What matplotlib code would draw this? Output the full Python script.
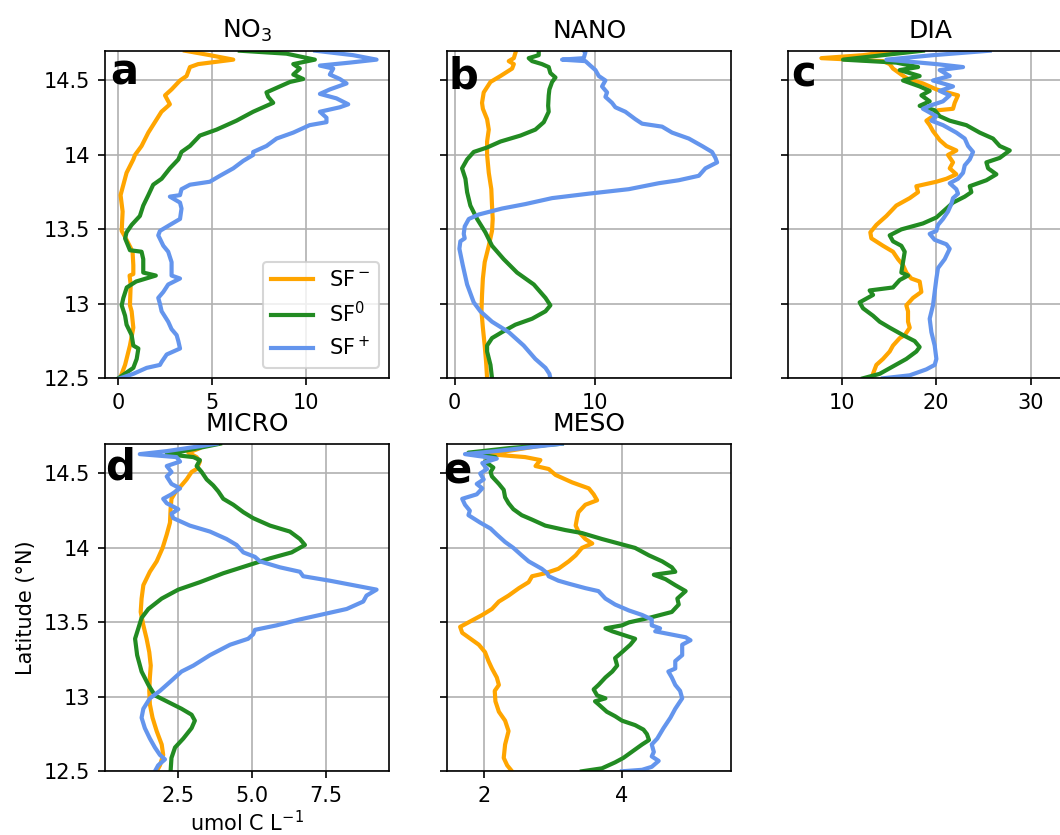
import matplotlib.pyplot as plt

plt.rcParams['font.family'] = 'DejaVu Sans'
plt.rcParams['font.size'] = 10

col_m = 'orange'
col_0 = 'forestgreen'
col_p = 'cornflowerblue'
labels = ['SF$^-$', 'SF$^0$', 'SF$^+$']

# (latitude, value)
no3_m = [(12.50, 0.09), (12.59, 0.36), (12.72, 0.62), (12.84, 0.80), (12.95, 0.71), (12.99, 0.62),
         (13.13, 0.66), (13.19, 0.60), (13.20, 0.80), (13.26, 0.80), (13.35, 0.76), (13.45, 0.36),
         (13.49, 0.18), (13.62, 0.23), (13.73, 0.12), (13.80, 0.27), (13.88, 0.44), (13.97, 0.80),
         (14.00, 0.89), (14.06, 1.24), (14.15, 1.60), (14.24, 2.05), (14.29, 2.30), (14.34, 2.75),
         (14.40, 2.49), (14.44, 2.84), (14.50, 3.29), (14.53, 3.64), (14.59, 3.82), (14.61, 4.26),
         (14.64, 6.13), (14.67, 4.88), (14.70, 3.55)]
no3_0 = [(12.50, 0.00), (12.57, 0.80), (12.63, 0.98), (12.70, 1.07), (12.72, 0.80), (12.79, 0.71),
         (12.86, 0.44), (12.92, 0.36), (12.99, 0.18), (13.04, 0.27), (13.11, 0.45), (13.15, 0.95),
         (13.19, 2.00), (13.21, 1.33), (13.30, 1.33), (13.35, 1.24), (13.36, 0.62), (13.44, 0.36),
         (13.48, 0.44), (13.53, 0.71), (13.59, 1.15), (13.66, 1.33), (13.73, 1.60), (13.80, 1.86),
         (13.84, 2.31), (13.91, 2.75), (13.97, 3.20), (14.02, 3.37), (14.06, 3.82), (14.13, 4.35),
         (14.17, 5.24), (14.23, 6.30), (14.29, 7.19), (14.35, 8.26), (14.39, 7.99), (14.42, 7.90),
         (14.49, 9.15), (14.51, 9.86), (14.54, 9.33), (14.58, 9.68), (14.61, 9.33), (14.64, 10.48),
         (14.68, 8.97), (14.70, 6.48)]
no3_p = [(12.50, 0.09), (12.53, 0.80), (12.57, 1.51), (12.59, 2.22), (12.61, 2.31), (12.66, 2.58),
         (12.70, 3.29), (12.75, 3.20), (12.79, 3.11), (12.83, 2.84), (12.88, 2.66), (12.95, 2.31),
         (13.00, 2.22), (13.04, 2.13), (13.08, 2.40), (13.13, 2.66), (13.17, 3.29), (13.19, 2.84),
         (13.28, 2.84), (13.35, 2.66), (13.39, 2.40), (13.46, 2.13), (13.49, 2.22), (13.53, 2.75),
         (13.57, 3.29), (13.64, 3.37), (13.68, 3.29), (13.72, 2.75), (13.73, 3.29), (13.77, 3.37),
         (13.80, 3.82), (13.82, 4.88), (13.86, 5.42), (13.91, 6.13), (13.96, 6.66), (14.00, 7.19),
         (14.02, 7.19), (14.06, 7.90), (14.11, 8.44), (14.15, 9.33), (14.20, 10.20), (14.22, 11.10),
         (14.25, 11.10), (14.29, 10.75), (14.32, 11.81), (14.34, 12.26), (14.38, 11.63), (14.41, 10.75),
         (14.44, 11.28), (14.48, 12.17), (14.51, 11.81), (14.54, 11.28), (14.58, 11.46), (14.60, 10.75),
         (14.62, 12.34), (14.64, 13.77), (14.67, 12.52), (14.70, 10.50)]

nano_m = [(12.50, 2.30), (12.61, 2.23), (12.72, 2.13), (12.84, 2.00), (12.95, 1.90), (13.06, 1.94),
          (13.17, 2.00), (13.28, 2.13), (13.39, 2.42), (13.49, 2.65), (13.57, 2.70), (13.66, 2.65),
          (13.77, 2.60), (13.88, 2.42), (14.00, 2.30), (14.09, 2.30), (14.17, 2.42), (14.24, 2.30),
          (14.31, 2.00), (14.35, 1.94), (14.42, 2.06), (14.49, 2.54), (14.53, 3.25), (14.58, 4.08),
          (14.61, 4.20), (14.63, 3.84), (14.65, 4.20), (14.70, 4.36)]
nano_0 = [(12.50, 2.65), (12.59, 2.54), (12.68, 2.30), (12.72, 2.30), (12.77, 2.65), (12.81, 3.36),
          (12.86, 4.31), (12.90, 5.50), (12.95, 6.45), (12.99, 6.80), (13.04, 6.45), (13.13, 5.62),
          (13.21, 4.43), (13.30, 3.48), (13.39, 2.65), (13.48, 2.18), (13.57, 1.59), (13.66, 1.11),
          (13.75, 0.88), (13.84, 0.76), (13.91, 0.52), (13.97, 0.88), (14.02, 1.35), (14.05, 2.30),
          (14.09, 3.25), (14.13, 4.67), (14.17, 5.73), (14.22, 6.33), (14.29, 6.68), (14.33, 6.64),
          (14.40, 6.68), (14.44, 6.73), (14.49, 6.92), (14.52, 7.16), (14.55, 6.80), (14.59, 6.68),
          (14.61, 6.20), (14.63, 5.50), (14.65, 5.26), (14.67, 5.97), (14.70, 5.97)]
nano_p = [(12.50, 6.80), (12.53, 6.73), (12.57, 6.45), (12.63, 5.73), (12.72, 4.90), (12.81, 3.84),
          (12.88, 2.65), (12.95, 1.82), (13.01, 1.35), (13.13, 0.88), (13.26, 0.57), (13.37, 0.33),
          (13.42, 0.40), (13.44, 0.71), (13.47, 0.64), (13.52, 0.71), (13.57, 1.00), (13.60, 1.71),
          (13.64, 3.36), (13.67, 5.02), (13.71, 6.92), (13.74, 9.53), (13.77, 12.37), (13.81, 14.50),
          (13.83, 15.92), (13.86, 17.35), (13.91, 17.82), (13.95, 18.65), (13.98, 18.53), (14.02, 18.29),
          (14.06, 17.58), (14.11, 16.64), (14.15, 15.45), (14.19, 14.74), (14.21, 13.32), (14.24, 12.84),
          (14.29, 12.13), (14.32, 11.42), (14.35, 11.18), (14.39, 10.71), (14.42, 10.83), (14.46, 10.47),
          (14.50, 10.71), (14.53, 10.24), (14.57, 10.00), (14.60, 9.64), (14.63, 9.29), (14.64, 7.63),
          (14.65, 9.17), (14.69, 9.29), (14.70, 9.17)]

dia_m = [(12.50, 13.14), (12.56, 13.49), (12.59, 13.67), (12.63, 14.37), (12.68, 15.08), (12.72, 15.43),
         (12.77, 16.14), (12.79, 16.67), (12.84, 17.20), (12.88, 17.02), (12.95, 17.02), (12.99, 16.84),
         (13.04, 17.55), (13.08, 18.43), (13.15, 18.25), (13.17, 17.37), (13.21, 16.84), (13.26, 16.49),
         (13.30, 15.96), (13.35, 15.43), (13.39, 14.37), (13.44, 13.14), (13.48, 13.03), (13.53, 13.67),
         (13.59, 14.73), (13.66, 15.78), (13.71, 17.20), (13.75, 18.08), (13.79, 17.90), (13.82, 20.02),
         (13.84, 21.08), (13.87, 22.13), (13.91, 21.43), (13.95, 21.78), (14.00, 21.25), (14.03, 22.13),
         (14.06, 21.08), (14.10, 20.37), (14.13, 20.02), (14.16, 19.66), (14.20, 19.31), (14.23, 18.96),
         (14.26, 19.66), (14.30, 20.19), (14.31, 21.78), (14.35, 21.96), (14.40, 22.31), (14.44, 20.02),
         (14.48, 18.60), (14.51, 17.02), (14.54, 16.31), (14.58, 15.43), (14.61, 15.08), (14.63, 14.37),
         (14.65, 7.85), (14.67, 12.26), (14.70, 15.80)]
dia_0 = [(12.50, 12.26), (12.53, 14.02), (12.58, 15.43), (12.63, 16.84), (12.68, 17.90), (12.71, 18.25),
         (12.75, 17.72), (12.79, 16.49), (12.84, 15.08), (12.88, 14.02), (12.92, 13.32), (12.97, 12.26),
         (13.01, 11.90), (13.06, 13.32), (13.09, 12.96), (13.11, 15.43), (13.16, 16.14), (13.19, 17.02),
         (13.21, 16.31), (13.28, 16.49), (13.35, 16.67), (13.39, 16.31), (13.42, 15.43), (13.46, 15.08),
         (13.50, 16.31), (13.54, 18.60), (13.58, 20.02), (13.64, 21.08), (13.68, 21.78), (13.72, 23.02),
         (13.75, 23.72), (13.79, 23.55), (13.83, 25.31), (13.87, 26.37), (13.91, 25.49), (13.95, 25.31),
         (13.98, 26.72), (14.03, 27.78), (14.06, 26.72), (14.11, 26.01), (14.15, 24.60), (14.20, 23.19),
         (14.23, 21.43), (14.26, 20.37), (14.30, 19.84), (14.33, 18.25), (14.36, 19.31), (14.40, 18.43),
         (14.43, 19.31), (14.46, 18.25), (14.50, 16.49), (14.53, 18.25), (14.57, 16.14), (14.59, 18.08),
         (14.62, 15.78), (14.64, 10.14), (14.67, 14.37), (14.70, 18.60)]
dia_p = [(12.50, 14.37), (12.52, 17.20), (12.56, 18.96), (12.59, 19.84), (12.63, 20.02), (12.72, 19.84),
         (12.81, 19.49), (12.90, 19.31), (12.99, 19.66), (13.08, 19.84), (13.17, 20.02), (13.24, 20.19),
         (13.30, 20.90), (13.37, 21.43), (13.40, 21.08), (13.43, 19.84), (13.47, 19.31), (13.49, 20.02),
         (13.53, 20.19), (13.57, 20.72), (13.62, 21.25), (13.67, 21.60), (13.71, 21.78), (13.74, 22.31),
         (13.77, 22.13), (13.81, 21.43), (13.84, 22.31), (13.88, 22.84), (13.93, 23.02), (13.97, 23.55),
         (14.02, 23.90), (14.06, 23.37), (14.11, 23.02), (14.15, 22.13), (14.20, 20.72), (14.23, 19.49),
         (14.26, 20.02), (14.31, 18.60), (14.33, 19.31), (14.36, 20.72), (14.40, 21.43), (14.43, 20.37),
         (14.46, 21.78), (14.50, 19.66), (14.53, 21.43), (14.57, 20.37), (14.59, 22.84), (14.61, 20.02),
         (14.64, 14.73), (14.67, 19.66), (14.70, 25.66)]

micro_m = [(12.50, 1.77), (12.54, 1.88), (12.61, 1.99), (12.68, 1.94), (12.77, 1.77), (12.86, 1.63),
           (12.95, 1.54), (13.04, 1.52), (13.13, 1.54), (13.21, 1.57), (13.30, 1.52), (13.39, 1.43),
           (13.48, 1.32), (13.57, 1.23), (13.66, 1.26), (13.75, 1.32), (13.84, 1.54), (13.91, 1.77),
           (14.00, 1.97), (14.09, 2.11), (14.17, 2.22), (14.26, 2.24), (14.33, 2.27), (14.38, 2.42),
           (14.42, 2.61), (14.46, 2.78), (14.51, 2.95), (14.53, 3.12), (14.58, 3.23), (14.61, 3.12),
           (14.64, 2.84), (14.67, 3.23), (14.70, 3.40)]
micro_0 = [(12.50, 2.24), (12.59, 2.27), (12.66, 2.39), (12.72, 2.67), (12.79, 2.95), (12.84, 3.06),
           (12.88, 2.95), (12.92, 2.61), (12.97, 2.11), (13.01, 1.71), (13.08, 1.49), (13.17, 1.26),
           (13.28, 1.11), (13.39, 1.04), (13.46, 1.15), (13.53, 1.26), (13.59, 1.49), (13.66, 1.94),
           (13.72, 2.50), (13.77, 3.23), (13.83, 4.02), (13.88, 4.81), (13.93, 5.60), (13.97, 6.33),
           (14.02, 6.78), (14.06, 6.61), (14.11, 6.27), (14.15, 5.60), (14.20, 5.03), (14.24, 4.70),
           (14.29, 4.36), (14.33, 4.02), (14.38, 3.85), (14.42, 3.68), (14.46, 3.46), (14.51, 3.29),
           (14.55, 3.12), (14.59, 3.23), (14.61, 3.01), (14.63, 2.11), (14.65, 2.67), (14.70, 3.91)]
micro_p = [(12.50, 1.71), (12.54, 1.82), (12.58, 2.05), (12.61, 1.88), (12.66, 1.71), (12.72, 1.54),
           (12.79, 1.37), (12.86, 1.26), (12.92, 1.32), (12.99, 1.54), (13.04, 1.88), (13.10, 2.22),
           (13.17, 2.61), (13.21, 3.01), (13.28, 3.57), (13.35, 4.25), (13.39, 4.86), (13.42, 5.03),
           (13.45, 5.09), (13.48, 5.82), (13.52, 6.61), (13.55, 7.29), (13.59, 8.19), (13.64, 8.75),
           (13.68, 8.86), (13.72, 9.20), (13.75, 8.41), (13.78, 7.62), (13.81, 6.72), (13.84, 6.61),
           (13.87, 5.93), (13.91, 5.26), (13.94, 5.09), (13.97, 4.70), (14.02, 4.47), (14.06, 4.13),
           (14.11, 3.57), (14.15, 2.89), (14.20, 2.33), (14.23, 2.27), (14.26, 2.50), (14.30, 2.11),
           (14.33, 1.99), (14.36, 2.27), (14.40, 2.56), (14.43, 2.27), (14.48, 2.11), (14.51, 2.27),
           (14.55, 2.11), (14.58, 2.56), (14.61, 2.44), (14.63, 1.20), (14.65, 2.11), (14.70, 3.80)]

meso_m = [(12.50, 2.41), (12.54, 2.34), (12.59, 2.29), (12.68, 2.31), (12.77, 2.36), (12.84, 2.31),
          (12.90, 2.22), (12.97, 2.17), (13.04, 2.16), (13.08, 2.22), (13.13, 2.19), (13.19, 2.12),
          (13.24, 2.07), (13.30, 2.02), (13.35, 1.93), (13.39, 1.81), (13.43, 1.69), (13.47, 1.66),
          (13.50, 1.78), (13.55, 1.98), (13.59, 2.12), (13.64, 2.22), (13.68, 2.36), (13.73, 2.51),
          (13.77, 2.65), (13.81, 2.70), (13.83, 2.89), (13.86, 3.08), (13.91, 3.23), (13.95, 3.33),
          (14.00, 3.42), (14.03, 3.57), (14.06, 3.47), (14.11, 3.37), (14.15, 3.33), (14.20, 3.35),
          (14.24, 3.37), (14.29, 3.47), (14.32, 3.64), (14.36, 3.59), (14.40, 3.52), (14.44, 3.28),
          (14.49, 3.04), (14.53, 2.94), (14.55, 2.75), (14.59, 2.82), (14.61, 2.60), (14.63, 2.07),
          (14.70, 3.00)]
meso_0 = [(12.50, 3.42), (12.52, 3.71), (12.56, 3.90), (12.59, 4.02), (12.63, 4.14), (12.68, 4.29),
          (12.71, 4.39), (12.75, 4.36), (12.78, 4.31), (12.81, 4.19), (12.84, 4.00), (12.87, 3.90),
          (12.90, 3.78), (12.95, 3.66), (12.97, 3.61), (12.99, 3.76), (13.01, 3.64), (13.05, 3.59),
          (13.08, 3.66), (13.13, 3.76), (13.17, 3.86), (13.21, 3.93), (13.26, 3.90), (13.30, 4.00),
          (13.35, 4.12), (13.39, 4.19), (13.44, 3.86), (13.46, 3.76), (13.48, 4.00), (13.50, 4.10),
          (13.53, 4.39), (13.57, 4.72), (13.62, 4.82), (13.66, 4.80), (13.71, 4.92), (13.75, 4.77),
          (13.79, 4.63), (13.82, 4.46), (13.84, 4.77), (13.87, 4.72), (13.91, 4.58), (13.95, 4.39),
          (14.00, 4.19), (14.03, 3.95), (14.06, 3.71), (14.10, 3.42), (14.12, 3.18), (14.15, 2.89),
          (14.19, 2.70), (14.22, 2.55), (14.26, 2.43), (14.30, 2.36), (14.34, 2.31), (14.39, 2.29),
          (14.43, 2.22), (14.48, 2.12), (14.51, 2.10), (14.54, 2.14), (14.58, 2.02), (14.61, 2.17),
          (14.64, 1.78), (14.67, 2.36), (14.70, 3.13)]
meso_p = [(12.50, 4.00), (12.51, 4.29), (12.53, 4.43), (12.57, 4.53), (12.60, 4.43), (12.63, 4.46),
          (12.68, 4.43), (12.72, 4.51), (12.79, 4.60), (12.86, 4.70), (12.92, 4.77), (12.99, 4.87),
          (13.04, 4.84), (13.08, 4.77), (13.13, 4.72), (13.17, 4.67), (13.19, 4.77), (13.24, 4.77),
          (13.28, 4.87), (13.35, 4.87), (13.38, 4.99), (13.40, 4.92), (13.44, 4.48), (13.46, 4.55),
          (13.48, 4.43), (13.52, 4.43), (13.55, 4.29), (13.58, 4.10), (13.62, 3.90), (13.66, 3.76),
          (13.71, 3.66), (13.73, 3.47), (13.76, 3.23), (13.78, 3.08), (13.81, 2.94), (13.83, 2.92),
          (13.86, 2.84), (13.91, 2.65), (13.95, 2.55), (14.00, 2.43), (14.04, 2.31), (14.09, 2.19),
          (14.13, 2.10), (14.17, 1.95), (14.22, 1.78), (14.25, 1.80), (14.29, 1.73), (14.33, 1.69),
          (14.36, 1.90), (14.40, 1.98), (14.43, 1.90), (14.46, 2.00), (14.50, 1.95), (14.53, 2.05),
          (14.57, 1.98), (14.60, 2.19), (14.63, 1.73), (14.65, 2.17), (14.70, 3.13)]

titles = ['NO$_3$', 'NANO', 'DIA', 'MICRO', 'MESO']
letters = ['a', 'b', 'c', 'd', 'e']
series = [(no3_m, no3_0, no3_p), (nano_m, nano_0, nano_p), (dia_m, dia_0, dia_p),
          (micro_m, micro_0, micro_p), (meso_m, meso_0, meso_p)]
xlims = [(-0.71, 14.45), (-0.55, 19.66), (4.32, 34.4), (0.024, 9.63), (1.47, 5.58)]
xticks = [[0, 5, 10], [0, 10], [10, 20, 30], [2.5, 5.0, 7.5], [2, 4]]
yticks = [12.5, 13, 13.5, 14, 14.5]
ytick_labels = ['12.5', '13', '13.5', '14', '14.5']

W, H = 1060, 835
fig = plt.figure(figsize=(W / 150, H / 150), dpi=150)
aw, ah = 284.3 / W, 327.6 / H
lefts = [105 / W, 447 / W, 788 / W, 105 / W, 447 / W]
bottoms = [(H - 378.3) / H] * 3 + [(H - 771.3) / H] * 2
letter_pos = [(0.017, 0.896), (0.004, 0.885), (0.011, 0.89), (0.0, 0.89), (-0.014, 0.88)]

for i in range(5):
    ax = fig.add_axes([lefts[i], bottoms[i], aw, ah])
    for data, col, lab in zip(series[i], [col_m, col_0, col_p], labels):
        lat, val = zip(*data)
        ax.plot(val, lat, color=col, lw=2, label=lab)
    ax.set_ylim(12.5, 14.7)
    ax.set_xlim(*xlims[i])
    ax.set_xticks(xticks[i])
    ax.set_yticks(yticks)
    if i in (0, 3):
        ax.set_yticklabels(ytick_labels)
    else:
        ax.set_yticklabels([])
    ax.grid(True)
    ax.set_title(titles[i], fontsize=12)
    ax.text(letter_pos[i][0], letter_pos[i][1], letters[i], transform=ax.transAxes,
            fontsize=20, fontweight='bold', va='baseline', ha='left')
    if i == 0:
        ax.legend(loc='lower right')
    if i == 3:
        ax.set_ylabel('Latitude (°N)')
        ax.set_xlabel('umol C L$^{-1}$', labelpad=2)

fig.savefig('out.png', dpi=150)
